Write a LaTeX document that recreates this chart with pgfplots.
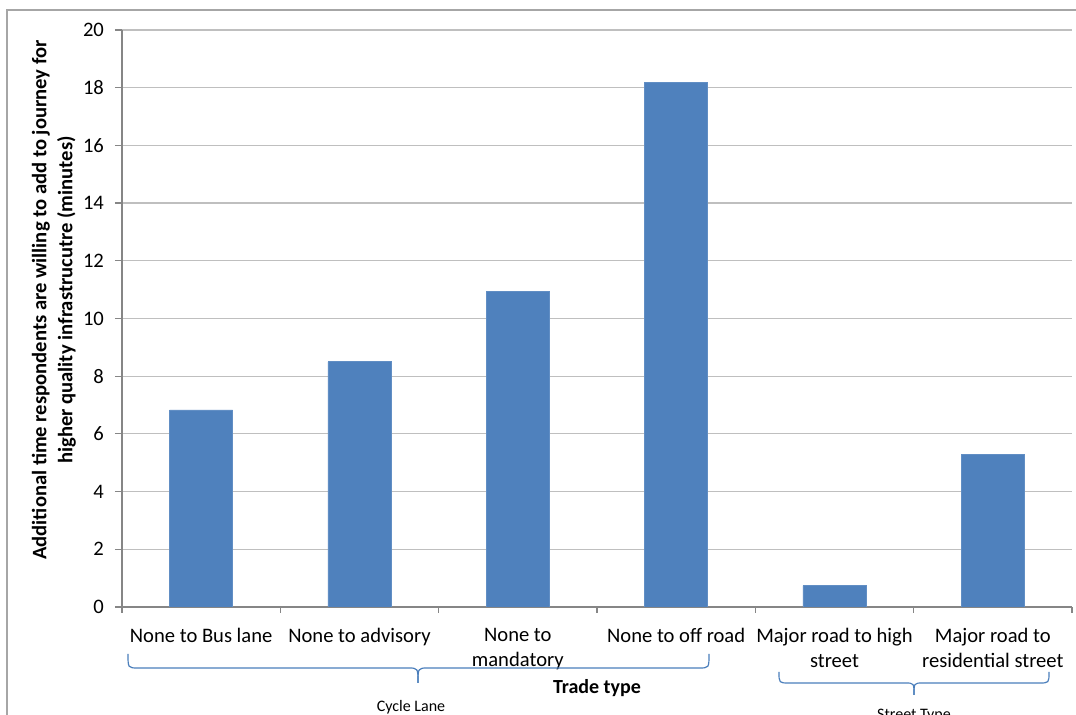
\documentclass[border=0pt]{standalone}
\usepackage{fontspec}
\setmainfont{Carlito}
\usepackage{pgfplots}
\pgfplotsset{compat=1.18}
\usetikzlibrary{calc}

\definecolor{barblue}{HTML}{4F81BD}
\definecolor{axgray}{HTML}{868686}
\definecolor{gridgray}{HTML}{BFBFBF}
\definecolor{bracecol}{HTML}{4A7EBB}

\begin{document}
\begin{tikzpicture}
\begin{axis}[
    name=ax,
    scale only axis,
    width=475pt, height=288.5pt,
    ybar, bar width=31.5pt,
    xmin=-0.5, xmax=5.5,
    ymin=0, ymax=20,
    ytick={0,2,...,20},
    xtick={0,...,5},
    xticklabels={None to Bus lane, None to advisory, None to\\mandatory, None to off road, Major road to high\\street, Major road to\\residential street},
    minor xtick={-0.5,0.5,...,5.5},
    axis x line*=bottom, axis y line*=left,
    axis line style={axgray, line width=1pt},
    tick align=outside,
    major tick length=3.5pt, minor tick length=3pt,
    major x tick style={draw=none},
    minor x tick style={axgray, line width=0.6pt},
    ytick style={axgray, line width=0.6pt},
    ymajorgrids, grid style={gridgray, line width=0.6pt},
    /pgf/number format/assume math mode=true,
    tick label style={font=\fontsize{10.3}{12.5}\selectfont},
    xticklabel style={align=center, yshift=-3.5pt},
    yticklabel style={xshift=-2pt},
    ylabel={Additional time respondents are willing to add to journey for\\higher quality infrastrucutre (minutes)},
    ylabel style={font=\bfseries\fontsize{10.3}{13}\selectfont, align=center,
        at={(axis description cs:-0.0716,0.532)}, anchor=center},
    xlabel={Trade type},
    xlabel style={font=\bfseries\fontsize{10}{12}\selectfont,
        at={(axis description cs:0.5,-0.1404)}, anchor=center},
]
\addplot[fill=barblue, draw=barblue!90!white] coordinates {
(0,6.83) (1,8.5) (2,10.95) (3,18.17) (4,0.74) (5,5.3)
};
\end{axis}
\begin{scope}[shift={(ax.south west)}, xshift=-61pt, yshift=303.5pt, x=0.5pt, y=-0.5pt]
  % chart area frame
  \draw[gray!70, line width=0.7pt] (7,715) -- (7,10) -- (1076,10);
  % category group braces
  \draw[bracecol, line width=0.6pt] (128,654) .. controls (128,668) .. (138,668) -- (408,668) .. controls (418,668) .. (418,683);
  \draw[bracecol, line width=0.6pt] (709,654) .. controls (709,668) .. (699,668) -- (428,668) .. controls (418,668) .. (418,683);
  \draw[bracecol, line width=0.6pt] (779,672) .. controls (779,683) .. (789,683) -- (905,683) .. controls (914,683) .. (914,695);
  \draw[bracecol, line width=0.6pt] (1049,672) .. controls (1049,683) .. (1039,683) -- (923,683) .. controls (914,683) .. (914,695);
  \node[font=\fontsize{8}{9.5}\selectfont, inner sep=0pt] at (411,707) {Cycle Lane};
  \node[font=\fontsize{8}{9.5}\selectfont, inner sep=0pt] at (914,716) {Street Type};
  \pgfresetboundingbox
  \path[use as bounding box] (0,0) rectangle (1076,715);
\end{scope}
\end{tikzpicture}
\end{document}
